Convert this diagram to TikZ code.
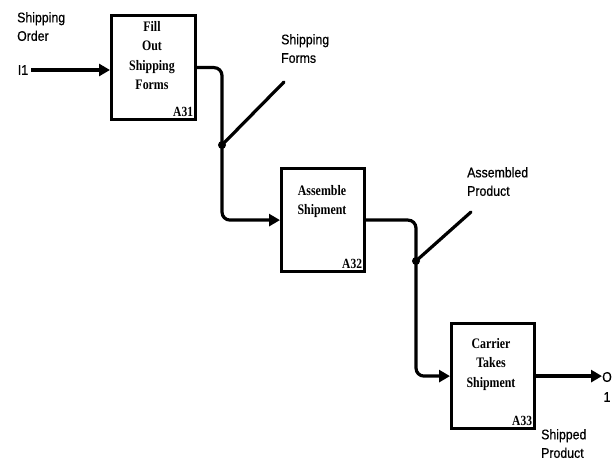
\documentclass[tikz,border=0pt]{standalone}
\usepackage{fontspec}
\setmainfont{Liberation Serif}
\newfontfamily\lblfont[FakeStretch=0.88,FakeBold=0.6]{Liberation Sans}
\newfontfamily\boxfont[FakeStretch=0.82]{Liberation Serif Bold}
\usetikzlibrary{arrows.meta}
\begin{document}
\begin{tikzpicture}[x=1pt,y=-1pt,
  actbox/.style={draw,line width=3.2pt,anchor=north west,inner sep=0pt},
  boxtext/.style={font=\boxfont\fontsize{14.5}{19.5}\selectfont,align=center,inner sep=0pt},
  numtext/.style={font=\boxfont\fontsize{14}{18}\selectfont,inner sep=0pt},
  lbl/.style={font=\lblfont\fontsize{14}{18.5}\selectfont,align=left,inner sep=0pt,anchor=north west},
  conn/.style={line width=3.2pt,rounded corners=8pt},
  arr/.style={-{Triangle[length=11pt,width=12pt]}},
  diag/.style={line width=3.2pt,line cap=round},
  jdot/.style={circle,fill,inner sep=0pt,minimum size=8pt}]
\useasboundingbox (0,0) rectangle (614,462);
% boxes
\node[actbox,minimum width=84pt,minimum height=104pt] (A31) at (110,14) {};
\node[actbox,minimum width=83pt,minimum height=103pt] (A32) at (280,167) {};
\node[actbox,minimum width=83pt,minimum height=105pt] (A33) at (450,322) {};
% box texts
\node[boxtext,anchor=north] (t31) at (152,21) {Fill\\Out\\Shipping\\Forms};
\node[boxtext,anchor=north] (t32) at (322,185) {Assemble\\Shipment};
\node[boxtext,anchor=north] (t33) at (491,338) {Carrier\\Takes\\Shipment};
\node[numtext,anchor=south east] (n31) at ([xshift=-4pt,yshift=4pt]A31.south east) {A31};
\node[numtext,anchor=south east] (n32) at ([xshift=-4pt,yshift=4pt]A32.south east) {A32};
\node[numtext,anchor=south east] (n33) at ([xshift=-4pt,yshift=4pt]A33.south east) {A33};
% labels
\node[lbl] (so) at (17,12) {Shipping\\Order};
\node[lbl,anchor=center] (i1) at (23,70) {I1};
\node[lbl] (sf) at (281,34) {Shipping\\Forms};
\node[lbl] (ap) at (467,167) {Assembled\\Product};
\node[lbl] (sp) at (541,429) {Shipped\\Product};
\node[lbl,anchor=center] (o1) at (607,377) {O};
\node[lbl,anchor=center] (one) at (607,397) {1};
% junctions
\coordinate (j1) at (222,145);
\coordinate (e1) at (284,82);
\coordinate (j2) at (416,261);
\coordinate (e2) at (471,212);
% connectors
\draw[conn,arr] ([xshift=3pt]i1.east) -- (A31.west |- i1.east);
\draw[conn,arr] (A31.east) -| (j1) |- (A32.west);
\draw[conn,arr] (A32.east) -| (j2) |- (A33.west);
\draw[conn,arr] (A33.east) -- (A33.east -| o1.west);
\draw[diag] (j1) -- (e1);
\draw[diag] (j2) -- (e2);
\node[jdot] (d1) at (j1) {};
\node[jdot] (d2) at (j2) {};
\end{tikzpicture}
\end{document}
